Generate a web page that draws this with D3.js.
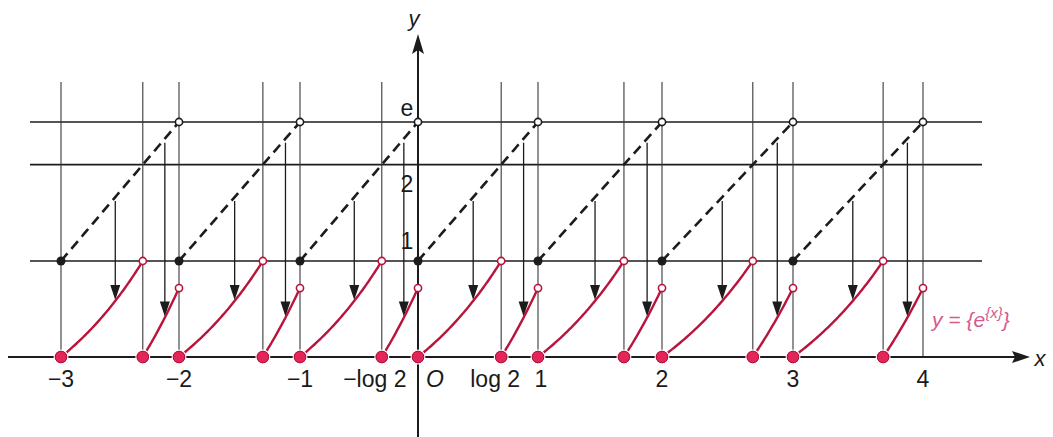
<!DOCTYPE html>
<html>
<head>
<meta charset="utf-8">
<script src="https://cdn.jsdelivr.net/npm/d3@7"></script>
<style>
  html, body { margin: 0; padding: 0; background: #fff; }
  svg { display: block; }
  text { font-family: "Liberation Sans", Arial, sans-serif; fill: #1a1a1a; }
</style>
</head>
<body>
<svg id="chart" width="1053" height="437"></svg>
<script>
// ---- data ----------------------------------------------------------------
const LOG2 = Math.log(2);
const periods = [-3, -2, -1, 0, 1, 2, 3];          // start n of each unit interval
const integers = [-3, -2, -1, 0, 1, 2, 3, 4];       // integer grid lines
const yLevels = [1, 2, Math.E];                     // horizontal guide lines
const yLevelText = ["1", "2", "e"];
const xTickValues = [-3, -2, -1, LOG2 - 1, 0, LOG2, 1, 2, 3, 4];
const xTickText = ["−3", "−2", "−1", "−log 2", "O", "log 2", "1", "2", "3", "4"];
const arrowT = [0.46, 0.88];                        // sample offsets of the mapping arrows

// ---- layout --------------------------------------------------------------
const W = 1053, H = 437;
const xStops = [61, 179, 300, 418, 538, 662, 793, 923];   // pixel of each integer
const x = d3.scaleLinear().domain(integers).range(xStops);
// y: linear on [0, 1], logarithmic on [1, e] so e^t runs evenly over a period
const yLow = d3.scaleLinear().domain([0, 1]).range([357, 261]);
const yHigh = d3.scaleLog().domain([1, Math.E]).range([261, 122]);
const y = v => (v <= 1 ? yLow(v) : yHigh(v));

const INK = "#1c1c1c";
const RED = "#b8143c";
const DOT = "#e2265a";

const svg = d3.select("#chart");

const dashedPts = n => d3.range(0, 1.0001, 0.02).map(t => [n + t, Math.exp(t)]);
const redPts1 = n => d3.range(0, LOG2 + 1e-9, LOG2 / 60).map(t => [n + t, Math.exp(t) - 1]);
const redPts2 = n => d3.range(LOG2, 1.0001, (1 - LOG2) / 30).map(t => [n + t, Math.exp(t) - 2]);
const line = d3.line().x(d => x(d[0])).y(d => y(d[1]));

// ---- guide lines ---------------------------------------------------------
const grid = svg.append("g").attr("stroke", INK).attr("fill", "none");
grid.selectAll("line.h").data(yLevels).join("line")
  .attr("x1", 30).attr("x2", 982)
  .attr("y1", d => y(d)).attr("y2", d => y(d))
  .attr("stroke-width", 1.6);

const verticals = integers.filter(v => v !== 0)
  .concat(periods.map(n => n + LOG2));
grid.selectAll("line.v").data(verticals).join("line")
  .attr("x1", d => x(d)).attr("x2", d => x(d))
  .attr("y1", 82).attr("y2", y(0))
  .attr("stroke-width", 1.1).attr("stroke", "#383838");

// ---- axes ----------------------------------------------------------------
const axes = svg.append("g");
axes.append("line").attr("x1", 8).attr("x2", 1020).attr("y1", y(0)).attr("y2", y(0))
  .attr("stroke", INK).attr("stroke-width", 2.2);
axes.append("path")
  .attr("d", `M1030,${y(0)} L1012,${y(0) - 6} L1015,${y(0)} L1012,${y(0) + 6} Z`)
  .attr("fill", INK);
axes.append("line").attr("x1", x(0)).attr("x2", x(0)).attr("y1", H).attr("y2", 50)
  .attr("stroke", INK).attr("stroke-width", 2);
axes.append("path")
  .attr("d", `M${x(0)},34 L${x(0) - 6},54 L${x(0)},50 L${x(0) + 6},54 Z`)
  .attr("fill", INK);
axes.append("text").attr("x", 1040).attr("y", 366).attr("text-anchor", "middle")
  .attr("font-size", 22).attr("font-style", "italic").text("x");
axes.append("text").attr("x", 414).attr("y", 26).attr("text-anchor", "middle")
  .attr("font-size", 22).attr("font-style", "italic").text("y");

// y level labels beside the y-axis
const yLabelDy = { "1": -12, "2": 27, "e": -6 };
axes.selectAll("text.yl").data(yLevels).join("text")
  .attr("x", x(0) - 11).attr("text-anchor", "middle")
  .attr("y", (d, i) => y(d) + yLabelDy[yLevelText[i]])
  .attr("font-size", 23).text((d, i) => yLevelText[i]);

// x tick labels
const xLabelDx = { "O": 17, "−log 2": -7, "log 2": -6, "1": 3 };
axes.selectAll("text.xl").data(xTickValues).join("text")
  .attr("x", (d, i) => x(d) + (xLabelDx[xTickText[i]] || 0))
  .attr("y", 387).attr("text-anchor", "middle")
  .attr("font-size", 23)
  .attr("font-style", (d, i) => xTickText[i] === "O" ? "italic" : null)
  .text((d, i) => xTickText[i]);

// ---- e^{x - n} (dashed) --------------------------------------------------
svg.append("g").selectAll("path").data(periods).join("path")
  .attr("d", n => line(dashedPts(n)))
  .attr("fill", "none").attr("stroke", INK).attr("stroke-width", 2.6)
  .attr("stroke-dasharray", "10,6");

// ---- mapping arrows ------------------------------------------------------
const arrows = svg.append("g");
periods.forEach(n => {
  arrowT.forEach(t => {
    const hi = Math.exp(t);
    const lo = hi - Math.floor(hi);
    const px = x(n + t), y0 = y(hi) + 4, y1 = y(lo) - 1;
    arrows.append("line").attr("x1", px).attr("x2", px)
      .attr("y1", y0).attr("y2", y1 - 12)
      .attr("stroke", INK).attr("stroke-width", 1.3);
    arrows.append("path")
      .attr("d", `M${px},${y1} L${px - 5},${y1 - 15} L${px + 5},${y1 - 15} Z`)
      .attr("fill", INK);
  });
});

// ---- y = {e^{{x}}} (red) -------------------------------------------------
const red = svg.append("g").attr("fill", "none").attr("stroke", RED).attr("stroke-width", 2.4);
red.selectAll("path.a").data(periods).join("path").attr("d", n => line(redPts1(n)));
red.selectAll("path.b").data(periods).join("path").attr("d", n => line(redPts2(n)));

// ---- end points ----------------------------------------------------------
const pts = svg.append("g");
pts.selectAll("circle.k").data(periods).join("circle")
  .attr("cx", n => x(n)).attr("cy", y(1)).attr("r", 4.5).attr("fill", INK);
pts.selectAll("circle.ko").data(periods).join("circle")
  .attr("cx", n => x(n + 1)).attr("cy", y(Math.E)).attr("r", 3.6)
  .attr("fill", "#fff").attr("stroke", INK).attr("stroke-width", 1.6);
const openRed = periods.flatMap(n => [[n + LOG2, 1], [n + 1, Math.E - 2]]);
pts.selectAll("circle.ro").data(openRed).join("circle")
  .attr("cx", d => x(d[0])).attr("cy", d => y(d[1])).attr("r", 3.6)
  .attr("fill", "#fff").attr("stroke", RED).attr("stroke-width", 1.6);
const closedRed = periods.flatMap(n => [n, n + LOG2]);
pts.selectAll("circle.rc").data(closedRed).join("circle")
  .attr("cx", d => x(d)).attr("cy", y(0)).attr("r", 6.2)
  .attr("fill", DOT).attr("stroke", "#fff").attr("stroke-width", 2.5)
  .attr("paint-order", "stroke");
pts.selectAll("circle.rc2").data(closedRed).join("circle")
  .attr("cx", d => x(d)).attr("cy", y(0)).attr("r", 5.8)
  .attr("fill", DOT).attr("stroke", "#a0102e").attr("stroke-width", 0.8);

// ---- curve label ---------------------------------------------------------
const lab = svg.append("text").attr("x", 932).attr("y", 327)
  .attr("font-size", 21).attr("font-style", "italic")
  .style("fill", "#d45a8e");
lab.append("tspan").text("y = {e");
lab.append("tspan").attr("dy", -9).attr("font-size", 15).text("{x}");
lab.append("tspan").attr("dy", 9).text("}");
</script>
</body>
</html>
